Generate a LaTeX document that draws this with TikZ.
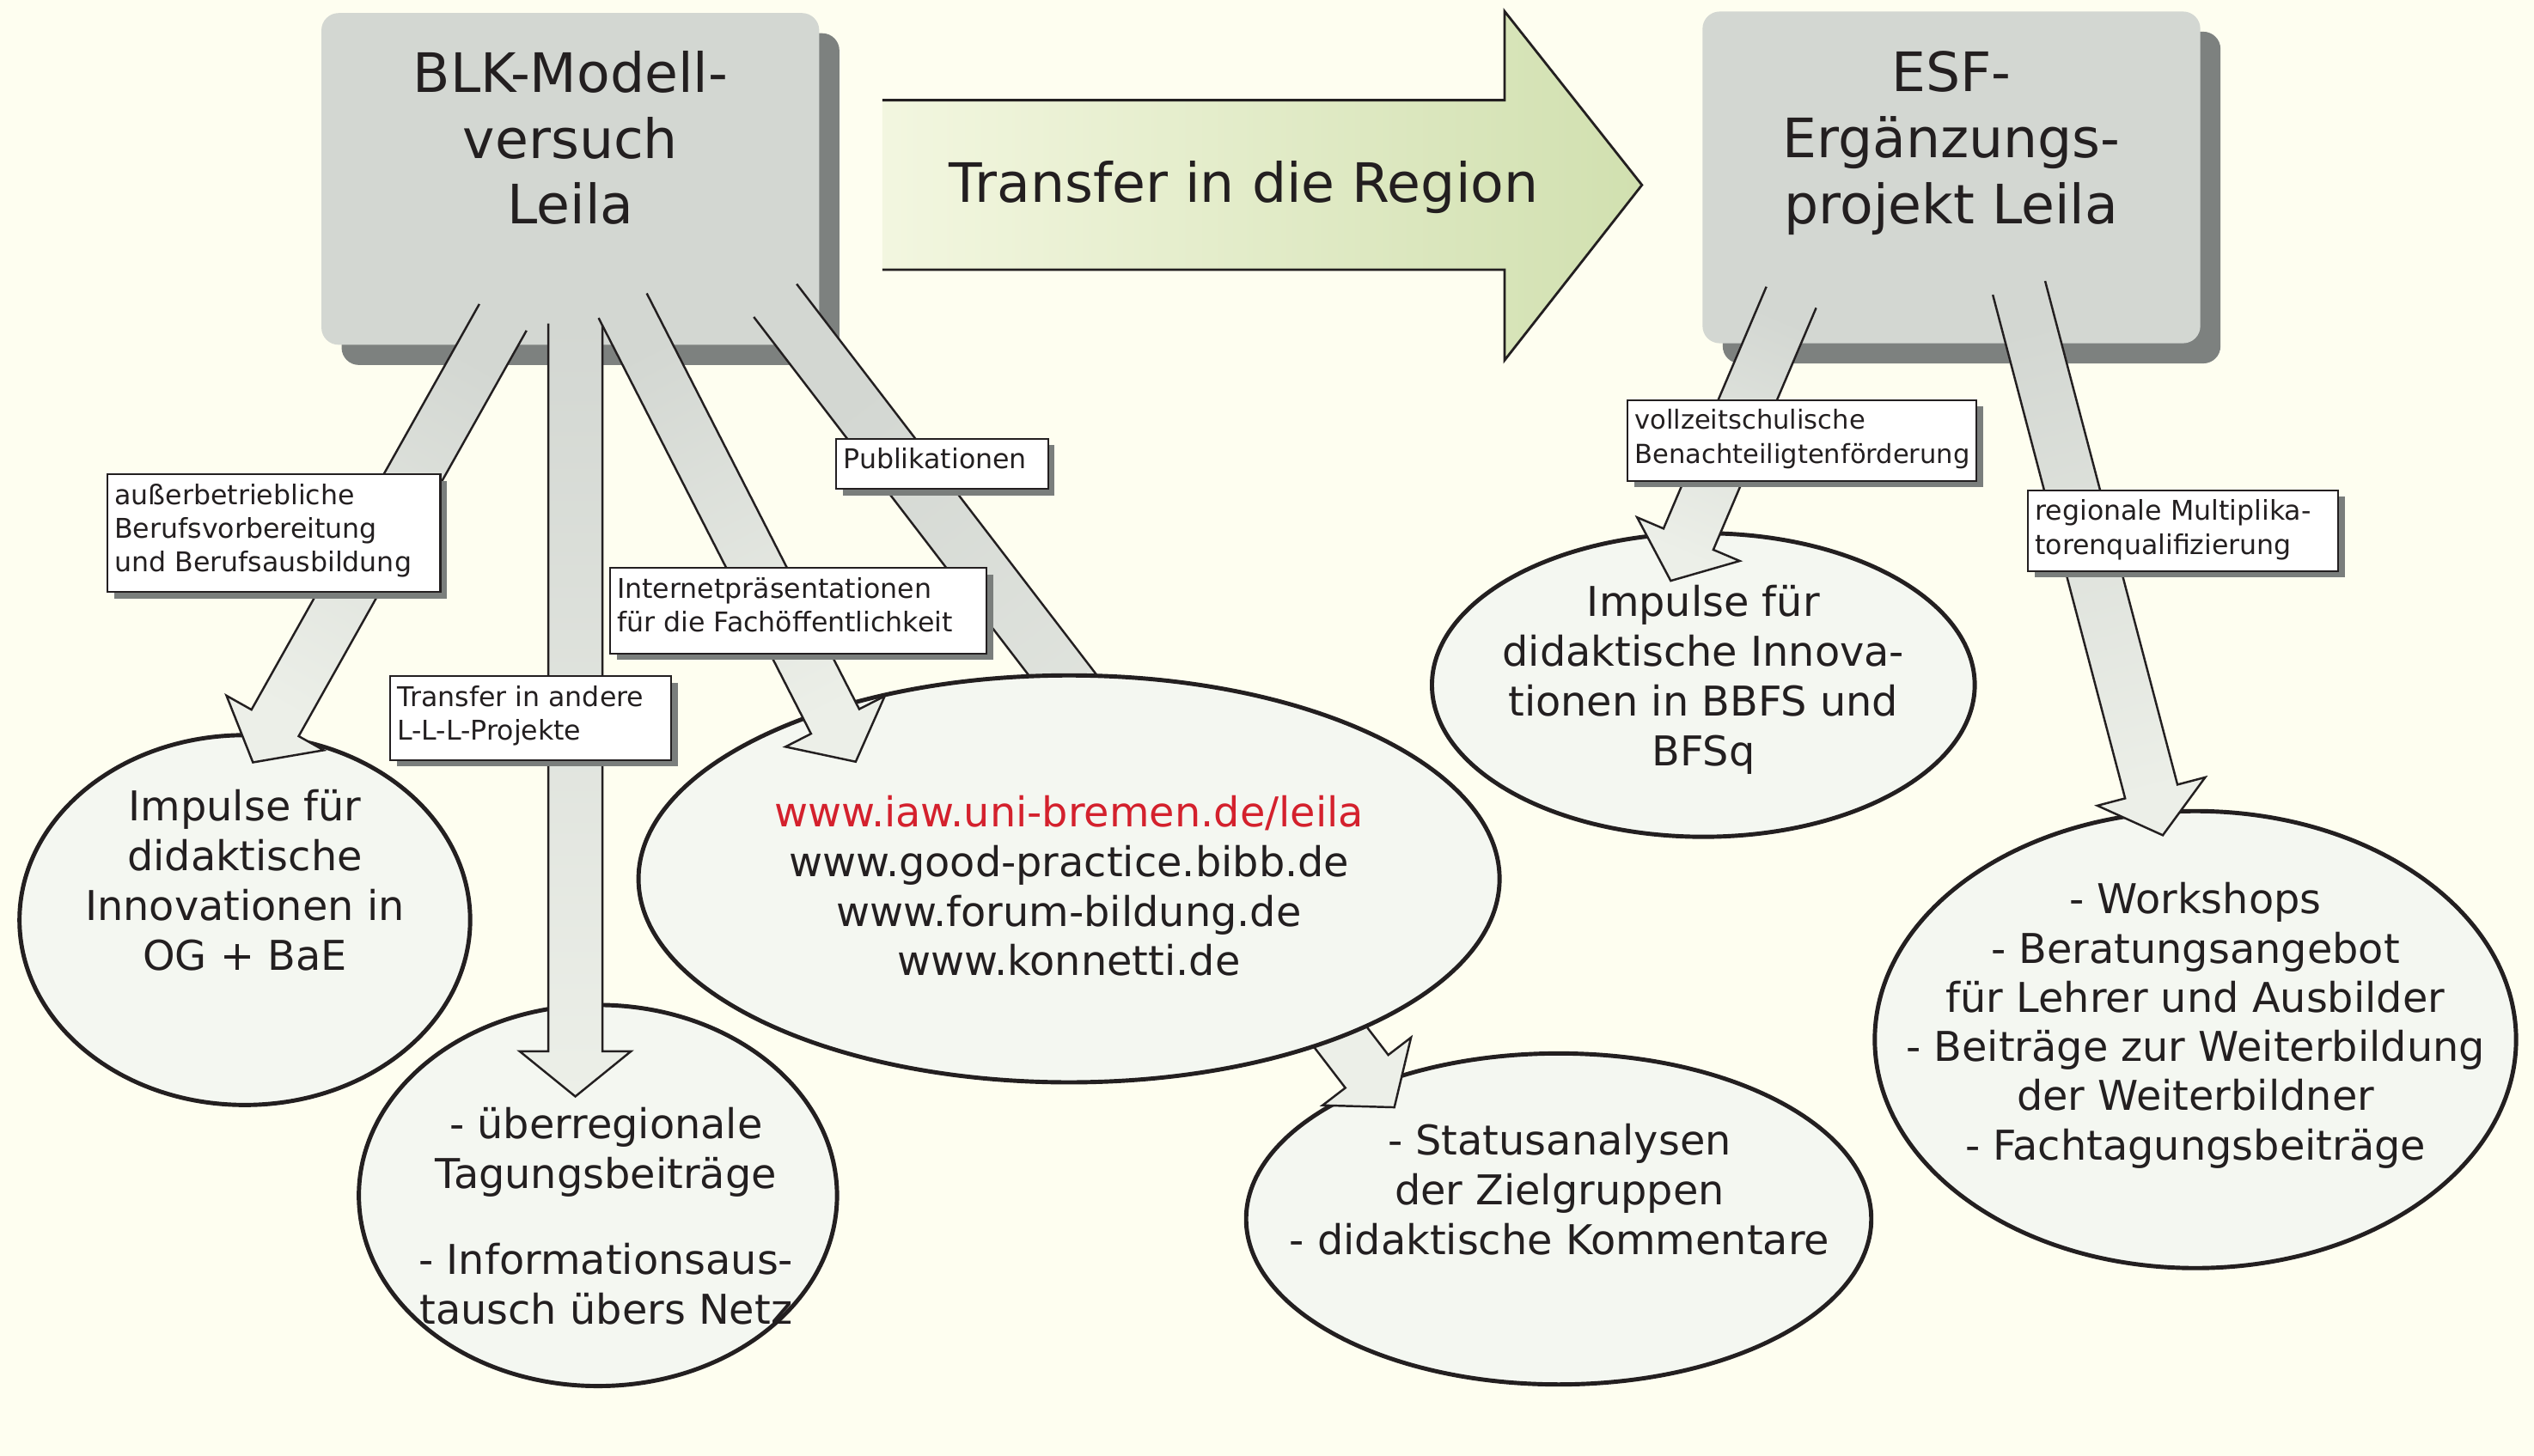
\documentclass[tikz,border=0pt]{standalone}
\usepackage{fontspec}
\setmainfont{DejaVu Sans}
\usetikzlibrary{calc,shapes.geometric,shadows}
\definecolor{bgc}{HTML}{FEFEF0}
\definecolor{boxc}{HTML}{D3D7D2}
\definecolor{boxsh}{HTML}{7D817F}
\definecolor{arrA}{HTML}{D3D7D2}
\definecolor{arrB}{HTML}{ECEFE8}
\definecolor{ellc}{HTML}{F4F7F1}
\definecolor{inkc}{HTML}{231F20}
\definecolor{trgreen}{HTML}{CBDCA7}
\definecolor{urlred}{HTML}{D4212D}
\definecolor{lblsh}{HTML}{7A7E7C}
\pgfdeclarehorizontalshading{transfershade}{100bp}{color(0bp)=(bgc); color(8bp)=(bgc); color(84bp)=(trgreen); color(100bp)=(trgreen)}
\newcommand\blockarrow[2]{%
  \path (#1); \pgfgetlastxy{\BAsx}{\BAsy}%
  \path (#2); \pgfgetlastxy{\BAtx}{\BAty}%
  \pgfmathsetmacro\BAang{atan2((\BAty)-(\BAsy),(\BAtx)-(\BAsx))+90}%
  \coordinate (ba-b) at ($(#2)!0.527cm!(#1)$);
  \coordinate (ba-s1) at ($(#1)!0.315cm!90:(#2)$);
  \coordinate (ba-s2) at ($(#1)!0.315cm!-90:(#2)$);
  \coordinate (ba-b1) at ($(ba-b)!0.315cm!90:(#2)$);
  \coordinate (ba-b2) at ($(ba-b)!0.315cm!-90:(#2)$);
  \coordinate (ba-h1) at ($(ba-b)!0.649cm!90:(#2)$);
  \coordinate (ba-h2) at ($(ba-b)!0.649cm!-90:(#2)$);
  \shade[top color=arrA, bottom color=arrB, shading angle=\BAang] (ba-s1) -- (ba-b1) -- (ba-h1) -- (#2) -- (ba-h2) -- (ba-b2) -- (ba-s2) -- cycle;
  \draw[arrline] (ba-s1) -- (ba-b1) -- (ba-h1) -- (#2) -- (ba-h2) -- (ba-b2) -- (ba-s2);
}
\begin{document}
\begin{tikzpicture}[x=0.018807cm, y=-0.018807cm,
  box/.style={fill=boxc, rounded corners=0.2cm, minimum width=5.795cm, minimum height=3.863cm, inner sep=0pt,
    general shadow={fill=boxsh, shadow xshift=0.235cm, shadow yshift=-0.235cm}},
  ell/.style={ellipse, draw=inkc, line width=1.4pt, fill=ellc, inner sep=0pt},
  titletext/.style={font=\fontsize{18}{21.8}\selectfont, align=center, text=inkc, inner sep=0pt},
  elltext/.style={font=\fontsize{13.6}{16.5}\selectfont, align=center, text=inkc, inner sep=0pt},
  lblbox/.style={draw=inkc, line width=0.6pt, fill=white, anchor=north west, inner sep=0pt,
    general shadow={fill=lblsh, shadow xshift=0.075cm, shadow yshift=-0.075cm}},
  lbltxt/.style={font=\fontsize{9}{11.2}\selectfont, align=left, anchor=north west, inner sep=0pt, text=inkc},
  arrline/.style={draw=inkc, line width=0.7pt, line join=miter}]
\useasboundingbox (0,0) rectangle (1568,901);
\fill[bgc] (0,0) rectangle (1568,901);

% transfer arrow
\coordinate (tr1) at (546,62);
\coordinate (tr2) at (931,62);
\coordinate (tr3) at (931,7);
\coordinate (tr4) at (1016,114.5);
\coordinate (tr5) at (931,223);
\coordinate (tr6) at (931,167);
\coordinate (tr7) at (546,167);
\shade[shading=transfershade] (tr1) -- (tr2) -- (tr3) -- (tr4) -- (tr5) -- (tr6) -- (tr7) -- cycle;
\draw[arrline, line width=0.8pt] (tr1) -- (tr2) -- (tr3) -- (tr4) -- (tr5) -- (tr6) -- (tr7);
\node[titletext] (trtext) at (769.7,116.2) {Transfer in die Region};

% main boxes
\node[box] (blk) at (352.9,110.75) {};
\node[titletext] (blktext) at (353,85.5) {BLK-Modell-\\versuch\\Leila};
\node[box] (esf) at (1207.5,109.8) {};
\node[titletext] (esftext) at (1207.5,88.6) {ESF-\\Ergänzungs-\\projekt Leila};

% ellipses (lower layer)
\node[ell, minimum width=5.247cm, minimum height=4.307cm] (e1) at (151.5,569.5) {};
\node[ell, minimum width=5.567cm, minimum height=4.438cm] (e2) at (370,740) {};
\node[ell, minimum width=7.278cm, minimum height=3.855cm] (e4) at (964.5,754.5) {};
\node[ell, minimum width=6.319cm, minimum height=3.536cm] (e5) at (1054,424) {};
\node[ell, minimum width=7.466cm, minimum height=5.322cm] (e6) at (1358.5,643.5) {};

% arrows
\coordinate (a1s) at (311.2,196.4); \coordinate (a1t) at (156.5,471.9);
\coordinate (a2s) at (356,200.3);   \coordinate (a2t) at (356,678.7);
\coordinate (a3s) at (385.3,189.2); \coordinate (a3t) at (529.5,471.5);
\coordinate (a4s) at (479.7,186);   \coordinate (a4t) at (862.8,685.4);
\coordinate (f1s) at (1108.4,184);  \coordinate (f1t) at (1033.8,359.5);
\coordinate (f2s) at (1249.3,178.2); \coordinate (f2t) at (1338.3,517);
\blockarrow{a1s}{a1t}
\blockarrow{a2s}{a2t}
\blockarrow{a4s}{a4t}
\blockarrow{f1s}{f1t}
\blockarrow{f2s}{f2t}

\node[ell, minimum width=10.024cm, minimum height=4.739cm] (e3) at (661.5,544) {};
\blockarrow{a3s}{a3t}

% ellipse texts
\node[elltext] (e1t) at (151.5,545) {Impulse für\\didaktische\\Innovationen in\\OG + BaE};
\node[elltext] (e2t) at (375,752.7) {- überregionale\\Tagungsbeiträge\\[0.414cm]- Informationsaus-\\tausch übers Netz};
\node[elltext] (e3t) at (661.5,548.3) {\textcolor{urlred}{www.iaw.uni-bremen.de/leila}\\www.good-practice.bibb.de\\www.forum-bildung.de\\www.konnetti.de};
\node[elltext] (e4t) at (965,736) {- Statusanalysen\\der Zielgruppen\\- didaktische Kommentare};
\node[elltext] (e5t) at (1054,420.7) {Impulse für\\didaktische Innova-\\tionen in BBFS und\\BFSq};
\node[elltext, font=\fontsize{13.6}{16.3}\selectfont] (e6t) at (1358.5,634.8) {- Workshops\\- Beratungsangebot\\für Lehrer und Ausbilder\\- Beiträge zur Weiterbildung\\der Weiterbildner\\- Fachtagungsbeiträge};

% labels
\node[lblbox, minimum width=3.874cm, minimum height=1.373cm] (l1) at (66,293) {};
\node[lbltxt] (l1t) at ($(l1.north west)+(4.5,6)$) {außerbetriebliche\\Berufsvorbereitung\\und Berufsausbildung};
\node[lblbox, minimum width=3.272cm, minimum height=0.978cm] (l2) at (241,418) {};
\node[lbltxt] (l2t) at ($(l2.north west)+(4.5,6)$) {Transfer in andere\\L-L-L-Projekte};
\node[lblbox, minimum width=4.382cm, minimum height=0.997cm] (l3) at (377,351) {};
\node[lbltxt] (l3t) at ($(l3.north west)+(4.5,6)$) {Internetpräsentationen\\für die Fachöffentlichkeit};
\node[lblbox, minimum width=2.464cm, minimum height=0.583cm] (l4) at (517,271) {};
\node[lbltxt] (l4t) at ($(l4.north west)+(4.5,6)$) {Publikationen};
\node[lblbox, minimum width=4.062cm, minimum height=0.940cm] (l5) at (1006.6,247) {};
\node[lbltxt, font=\fontsize{8.7}{11.2}\selectfont] (l5t) at ($(l5.north west)+(4.5,6)$) {vollzeitschulische\\Benachteiligtenförderung};
\node[lblbox, minimum width=3.611cm, minimum height=0.938cm] (l6) at (1254.4,303) {};
\node[lbltxt] (l6t) at ($(l6.north west)+(4.5,6)$) {regionale Multiplika-\\torenqualifizierung};
\end{tikzpicture}
\end{document}
